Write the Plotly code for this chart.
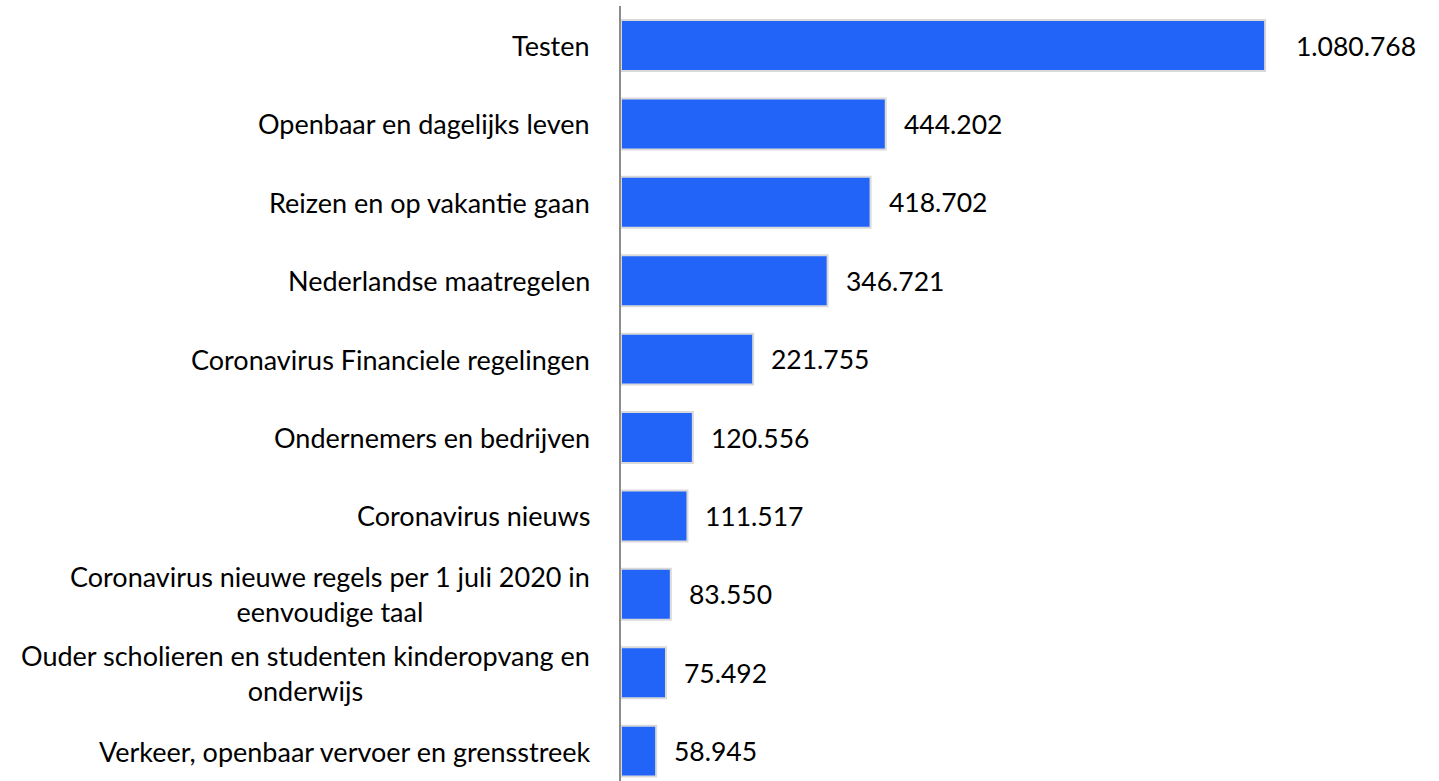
import plotly.graph_objects as go

categories = [
    "Testen",
    "Openbaar en dagelijks leven",
    "Reizen en op vakantie gaan",
    "Nederlandse maatregelen",
    "Coronavirus Financiele regelingen",
    "Ondernemers en bedrijven",
    "Coronavirus nieuws",
    "Coronavirus nieuwe regels per 1 juli 2020 in<br>eenvoudige taal",
    "Ouder scholieren en studenten kinderopvang en<br>onderwijs",
    "Verkeer, openbaar vervoer en grensstreek",
]
values = [1080768, 444202, 418702, 346721, 221755, 120556, 111517, 83550, 75492, 58945]
value_labels = ["1.080.768", "444.202", "418.702", "346.721", "221.755",
                "120.556", "111.517", "83.550", "75.492", "58.945"]

FONT = "Lato, 'Open Sans', sans-serif"
idx = list(range(len(categories)))

fig = go.Figure()
fig.add_trace(go.Bar(
    y=idx, x=values, orientation="h",
    marker=dict(color="#2264F8", line=dict(color="#D9D9D9", width=2)),
    width=0.65, hoverinfo="skip",
))

for i, (c, lab, v) in enumerate(zip(categories, value_labels, values)):
    fig.add_annotation(x=0, xref="paper", y=i, yref="y", text=c, showarrow=False,
                       xanchor="right", yanchor="middle", align="center", xshift=-29,
                       font=dict(family=FONT, size=27, color="#000000"))
    fig.add_annotation(x=v, xref="x", y=i, yref="y", text=lab, showarrow=False,
                       xanchor="left", yanchor="middle", xshift=16 if i else 29,
                       font=dict(family=FONT, size=26.5, color="#000000"))

fig.update_layout(
    width=1439, height=781,
    margin=dict(l=621, r=0, t=6, b=0),
    paper_bgcolor="white", plot_bgcolor="white",
    showlegend=False,
    xaxis=dict(visible=False, range=[0, 1372500]),
    yaxis=dict(range=[9.381, -0.504], showticklabels=False, showgrid=False,
               zeroline=False, showline=True, linecolor="#8C8C8C", linewidth=2,
               ticks=""),
)

fig.write_html("out.html", config={"displayModeBar": False},
               post_script="document.body.style.margin='0';")
